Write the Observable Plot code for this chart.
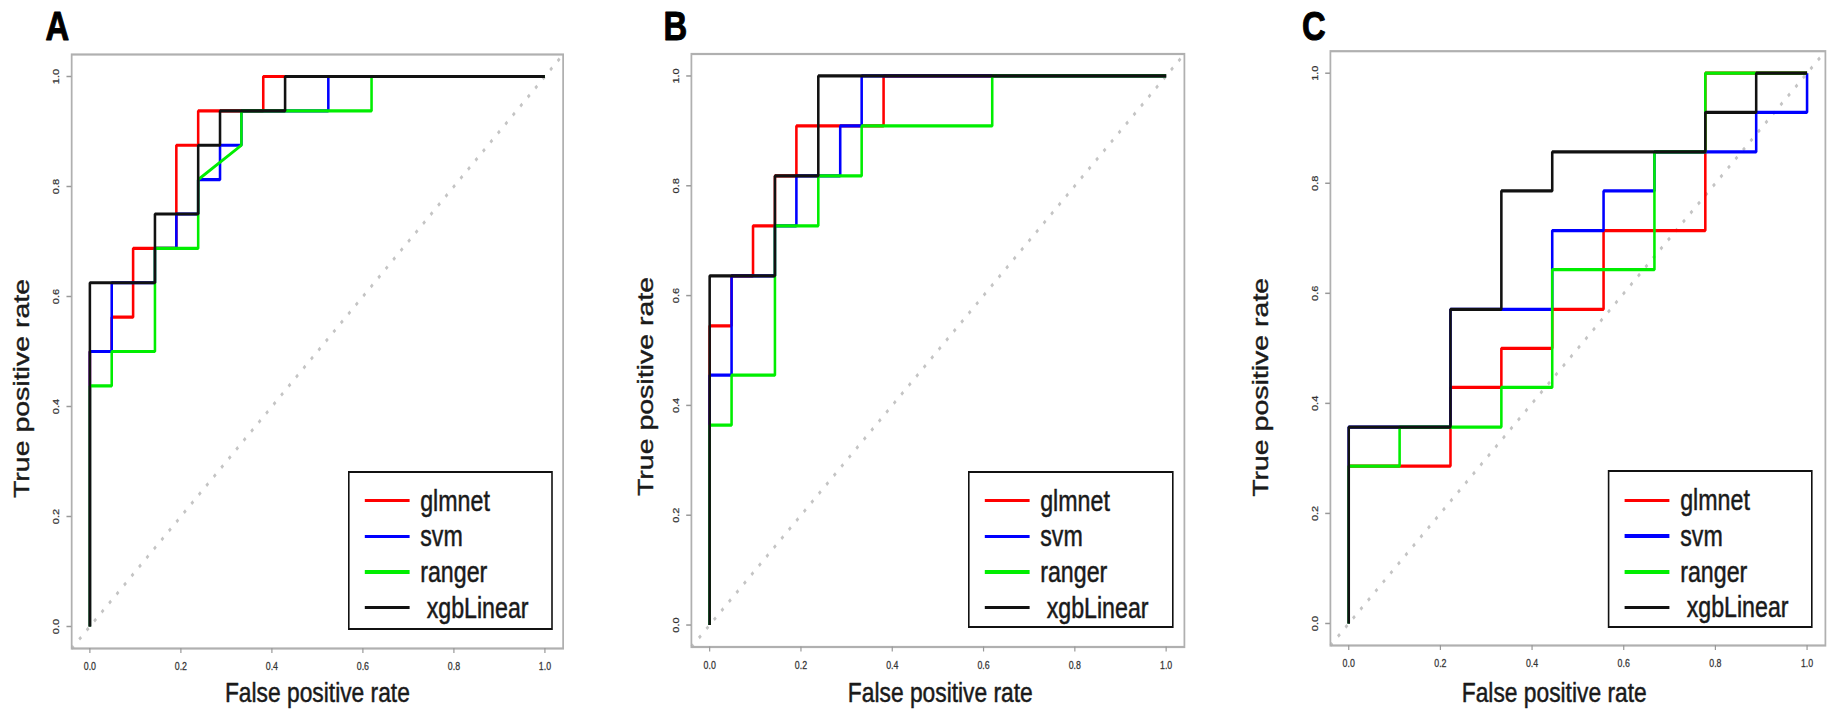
<!DOCTYPE html>
<html>
<head>
<meta charset="utf-8">
<script src="https://cdn.jsdelivr.net/npm/d3@7"></script>
<script src="https://cdn.jsdelivr.net/npm/@observablehq/plot@0.6"></script>
<style>
  html, body { margin: 0; padding: 0; background: #fff; }
  #fig { position: relative; width: 1834px; height: 714px; overflow: hidden; background: #fff; }
  .panel { position: absolute; top: 0; height: 714px; transform-origin: 0 0; }
  .panel svg { display: block; }
  .legend { position: absolute; box-sizing: border-box; border: 2.6px solid #111; background: #fff;
            font-family: "Liberation Sans", Arial, sans-serif; color: #1a1a1a; }
  .legend .sw { position: absolute; height: 3.5px; }
  .legend .lab { position: absolute; white-space: pre; font-size: 29px; line-height: 36px; height: 36px;
                 -webkit-text-stroke: 0.5px #1a1a1a; }
</style>
</head>
<body>
<div id="fig"></div>
<script>
// ---------------- data ----------------
const panelLetters = ["A", "B", "C"];
const modelNames = ["glmnet", "svm", "ranger", "xgbLinear"];
const legendLabels = ["glmnet", "svm", "ranger", " xgbLinear"];
const modelColors = ["#ff0000", "#0000ff", "#00ee00", "#111111"];
const xTickValues = [0, 0.2, 0.4, 0.6, 0.8, 1.0];
const xTickLabels = ["0.0", "0.2", "0.4", "0.6", "0.8", "1.0"];
const yTickValues = [0, 0.2, 0.4, 0.6, 0.8, 1.0];
const yTickLabels = ["0.0", "0.2", "0.4", "0.6", "0.8", "1.0"];
const xTitle = "False positive rate";
const yTitle = "True positive rate";
const diagonal = [-0.04, 1.04];

// Panel A
const A_glmnet_fpr = [0, 0, 0.048, 0.048, 0.095, 0.095, 0.190, 0.190, 0.238, 0.238, 0.381, 0.381, 1];
const A_glmnet_tpr = [0, 0.5, 0.5, 0.5625, 0.5625, 0.6875, 0.6875, 0.875, 0.875, 0.9375, 0.9375, 1, 1];
const A_svm_fpr = [0, 0, 0.048, 0.048, 0.143, 0.143, 0.190, 0.190, 0.238, 0.238, 0.286, 0.286, 0.333, 0.333, 0.524, 0.524, 1];
const A_svm_tpr = [0, 0.5, 0.5, 0.625, 0.625, 0.6875, 0.6875, 0.75, 0.75, 0.8125, 0.8125, 0.875, 0.875, 0.9375, 0.9375, 1, 1];
const A_ranger_fpr = [0, 0, 0.048, 0.048, 0.143, 0.143, 0.238, 0.238, 0.333, 0.333, 0.619, 0.619, 1];
const A_ranger_tpr = [0, 0.4375, 0.4375, 0.5, 0.5, 0.6875, 0.6875, 0.8125, 0.875, 0.9375, 0.9375, 1, 1];
const A_xgb_fpr = [0, 0, 0.143, 0.143, 0.238, 0.238, 0.286, 0.286, 0.429, 0.429, 1];
const A_xgb_tpr = [0, 0.625, 0.625, 0.75, 0.75, 0.875, 0.875, 0.9375, 0.9375, 1, 1];

// Panel B
const B_glmnet_fpr = [0, 0, 0.048, 0.048, 0.095, 0.095, 0.143, 0.143, 0.190, 0.190, 0.381, 0.381, 1];
const B_glmnet_tpr = [0, 0.545, 0.545, 0.636, 0.636, 0.727, 0.727, 0.818, 0.818, 0.909, 0.909, 1, 1];
const B_svm_fpr = [0, 0, 0.048, 0.048, 0.143, 0.143, 0.190, 0.190, 0.286, 0.286, 0.333, 0.333, 1];
const B_svm_tpr = [0, 0.455, 0.455, 0.636, 0.636, 0.727, 0.727, 0.818, 0.818, 0.909, 0.909, 1, 1];
const B_ranger_fpr = [0, 0, 0.048, 0.048, 0.143, 0.143, 0.238, 0.238, 0.333, 0.333, 0.619, 0.619, 1];
const B_ranger_tpr = [0, 0.364, 0.364, 0.455, 0.455, 0.727, 0.727, 0.818, 0.818, 0.909, 0.909, 1, 1];
const B_xgb_fpr = [0, 0, 0.143, 0.143, 0.238, 0.238, 1];
const B_xgb_tpr = [0, 0.636, 0.636, 0.818, 0.818, 1, 1];

// Panel C
const C_glmnet_fpr = [0, 0, 0.222, 0.222, 0.333, 0.333, 0.444, 0.444, 0.556, 0.556, 0.778, 0.778, 1];
const C_glmnet_tpr = [0, 0.286, 0.286, 0.429, 0.429, 0.5, 0.5, 0.571, 0.571, 0.714, 0.714, 1, 1];
const C_svm_fpr = [0, 0, 0.222, 0.222, 0.444, 0.444, 0.556, 0.556, 0.667, 0.667, 0.889, 0.889, 1, 1];
const C_svm_tpr = [0, 0.357, 0.357, 0.571, 0.571, 0.714, 0.714, 0.786, 0.786, 0.857, 0.857, 0.929, 0.929, 1];
const C_ranger_fpr = [0, 0, 0.111, 0.111, 0.333, 0.333, 0.444, 0.444, 0.667, 0.667, 0.778, 0.778, 1];
const C_ranger_tpr = [0, 0.286, 0.286, 0.357, 0.357, 0.429, 0.429, 0.643, 0.643, 0.857, 0.857, 1, 1];
const C_xgb_fpr = [0, 0, 0.222, 0.222, 0.333, 0.333, 0.444, 0.444, 0.778, 0.778, 0.889, 0.889, 1];
const C_xgb_tpr = [0, 0.357, 0.357, 0.571, 0.571, 0.786, 0.786, 0.857, 0.857, 0.929, 0.929, 1, 1];

// ---------------- layout (internal px; panels are squeezed horizontally) ----------------
const SX = 0.8;
const layouts = [
  {left: 0, width: 765, mL: 89.1, mR: 61.6, mT: 54, mB: 66,
   letterDx: -17.9, letterDy: -15, yTitleDx: -62, yTitleDy: 37, xTitleDx: 0, xTitleDy: 44,
   legend: {left: 434.5, top: 470.6, width: 256.75, height: 159}},
  {left: 612, width: 763.75, mL: 98.75, mR: 48.75, mT: 53.5, mB: 67.5,
   letterDx: -20, letterDy: -14.5, yTitleDx: -57, yTitleDy: 36, xTitleDx: 3, xTitleDy: 46,
   legend: {left: 444.5, top: 470.6, width: 257, height: 157.7}},
  {left: 1223, width: 763.75, mL: 133.75, mR: 11.25, mT: 50.7, mB: 69,
   letterDx: -20.6, letterDy: -11.7, yTitleDx: -87.5, yTitleDy: 39, xTitleDx: -29.6, xTitleDy: 47,
   legend: {left: 480.75, top: 470.4, width: 256, height: 158}}
];

const panelSeries = [
  [[A_glmnet_fpr, A_glmnet_tpr], [A_svm_fpr, A_svm_tpr], [A_ranger_fpr, A_ranger_tpr], [A_xgb_fpr, A_xgb_tpr]],
  [[B_glmnet_fpr, B_glmnet_tpr], [B_svm_fpr, B_svm_tpr], [B_ranger_fpr, B_ranger_tpr], [B_xgb_fpr, B_xgb_tpr]],
  [[C_glmnet_fpr, C_glmnet_tpr], [C_svm_fpr, C_svm_tpr], [C_ranger_fpr, C_ranger_tpr], [C_xgb_fpr, C_xgb_tpr]]
];

const fig = document.getElementById("fig");
const FONT = "Liberation Sans, Arial, Helvetica, sans-serif";

panelLetters.forEach((letter, p) => {
  const L = layouts[p];
  const curveMarks = panelSeries[p].map(([fpr, tpr], m) =>
    Plot.line(fpr.map((x, i) => ({fpr: x, tpr: tpr[i], model: modelNames[m]})), {
      x: "fpr", y: "tpr", stroke: modelColors[m], strokeWidth: 3.2,
      strokeLinejoin: "miter", strokeLinecap: "butt"
    })
  );
  const svg = Plot.plot({
    width: L.width, height: 714,
    marginLeft: L.mL, marginRight: L.mR, marginTop: L.mT, marginBottom: L.mB,
    x: {domain: [-0.04, 1.04], axis: null},
    y: {domain: [-0.04, 1.04], axis: null},
    style: {fontFamily: FONT, background: "#fff", overflow: "visible"},
    marks: [
      Plot.line(diagonal, {x: d => d, y: d => d, stroke: "#c4c4c4", strokeWidth: 3.2, strokeDasharray: "3.5,9.5", strokeLinecap: "butt"}),
      ...curveMarks,
      Plot.frame({stroke: "#b0b0b0", strokeWidth: 2.2}),
      Plot.axisX({ticks: xTickValues, tickSize: 5, tickFormat: () => "", label: null, stroke: "#999", strokeWidth: 1.5}),
      Plot.axisY({ticks: yTickValues, tickSize: 6, tickFormat: () => "", label: null, stroke: "#999", strokeWidth: 1.5}),
      Plot.text(xTickValues, {x: d => d, text: (d, i) => xTickLabels[i], frameAnchor: "bottom", dy: 18,
        lineAnchor: "middle", fontSize: 11, fill: "#333", stroke: "#555", strokeWidth: 0.3}),
      Plot.text(yTickValues, {y: d => d, text: (d, i) => yTickLabels[i], frameAnchor: "left", dx: -19,
        rotate: -90, lineAnchor: "middle", textAnchor: "middle", fontSize: 11, fill: "#333", stroke: "#555", strokeWidth: 0.3}),
      Plot.text([xTitle], {text: d => d, frameAnchor: "bottom", dx: L.xTitleDx, dy: L.xTitleDy,
        lineAnchor: "middle", fontSize: 28.5, fill: "#1a1a1a", stroke: "#1a1a1a", strokeWidth: 0.5}),
      Plot.text([yTitle], {text: d => d, frameAnchor: "left", dx: L.yTitleDx, dy: L.yTitleDy, rotate: -90,
        lineAnchor: "middle", textAnchor: "middle", fontSize: 28.5, fill: "#1a1a1a", stroke: "#1a1a1a", strokeWidth: 0.5}),
      Plot.text([letter], {text: d => d, frameAnchor: "top-left", dx: L.letterDx, dy: L.letterDy,
        lineAnchor: "bottom", textAnchor: "middle", fontSize: 41, fontWeight: "bold", fill: "#000",
        stroke: "#000", strokeWidth: 1})
    ]
  });

  const div = document.createElement("div");
  div.className = "panel";
  div.style.left = L.left + "px";
  div.style.width = L.width + "px";
  div.style.transform = `scaleX(${SX})`;
  div.appendChild(svg);

  // legend (HTML, inside the squeezed panel)
  const lg = document.createElement("div");
  lg.className = "legend";
  lg.style.left = L.legend.left + "px";
  lg.style.top = L.legend.top + "px";
  lg.style.width = L.legend.width + "px";
  lg.style.height = L.legend.height + "px";
  legendLabels.forEach((lab, i) => {
    const cy = 28 + i * 35.7;
    const sw = document.createElement("div");
    sw.className = "sw";
    sw.style.left = "19.25px";
    sw.style.width = "55.75px";
    sw.style.top = (cy - 1.75) + "px";
    sw.style.background = modelColors[i];
    const t = document.createElement("div");
    t.className = "lab";
    t.style.left = "88.75px";
    t.style.top = (cy - 18) + "px";
    t.textContent = lab;
    lg.appendChild(sw);
    lg.appendChild(t);
  });
  div.appendChild(lg);
  fig.appendChild(div);
});
</script>
</body>
</html>
